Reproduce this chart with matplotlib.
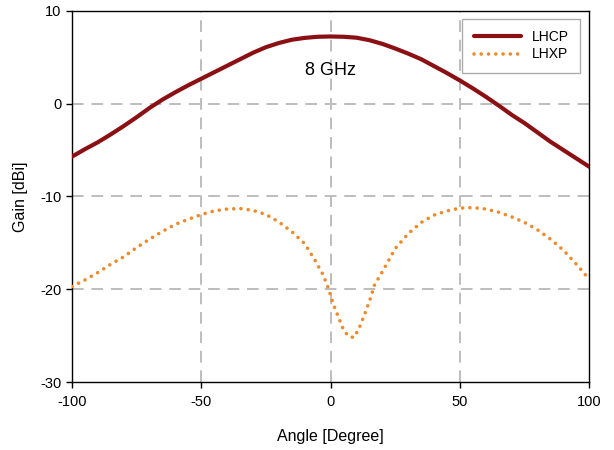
import matplotlib
matplotlib.use('Agg')
import matplotlib.pyplot as plt

# LHCP co-pol gain
lhcp_angle = [-100, -95, -90, -85, -80, -75, -70, -65, -60, -55, -50, -45, -40, -35,
              -30, -25, -20, -15, -10, -5, 0, 5, 10, 15, 20, 25, 30, 35, 40, 45,
              50, 55, 60, 65, 70, 75, 80, 85, 90, 95, 100]
lhcp_gain = [-5.7, -4.9, -4.15, -3.3, -2.4, -1.45, -0.45, 0.45, 1.25, 2.0, 2.7, 3.4,
             4.1, 4.8, 5.5, 6.1, 6.55, 6.9, 7.1, 7.22, 7.25, 7.22, 7.12, 6.85, 6.45,
             5.95, 5.4, 4.8, 4.05, 3.3, 2.5, 1.65, 0.75, -0.2, -1.2, -2.1, -3.1,
             -4.1, -5.0, -5.9, -6.8]

# LHXP cross-pol gain
lhxp_angle = [-100, -95, -90, -85, -80, -75, -70, -65, -60, -55, -50, -45, -40, -35,
              -30, -25, -20, -15, -10, -6, -3, -1, 1, 3, 5, 7, 9, 11, 13, 15, 17,
              20, 25, 30, 35, 40, 45, 50, 55, 60, 65, 70, 75, 80, 85, 90, 95, 100]
lhxp_gain = [-19.7, -19.0, -18.2, -17.3, -16.5, -15.5, -14.6, -13.75, -13.0, -12.45,
             -11.95, -11.55, -11.35, -11.3, -11.5, -11.95, -12.75, -13.8, -15.1,
             -16.9, -18.4, -19.8, -21.6, -23.0, -24.4, -25.1, -25.2, -24.2, -22.8,
             -21.3, -19.5, -18.1, -15.6, -14.0, -12.8, -12.0, -11.55, -11.25, -11.2,
             -11.35, -11.7, -12.2, -12.8, -13.6, -14.6, -15.8, -17.3, -18.95]

x_ticks = [-100, -50, 0, 50, 100]
y_ticks = [-30, -20, -10, 0, 10]

plt.rcParams['font.family'] = ['Liberation Sans', 'DejaVu Sans']
plt.rcParams['axes.unicode_minus'] = False

fig = plt.figure(figsize=(6.14, 4.5), dpi=100)
ax = fig.add_axes([0.1173, 0.1511, 0.8425, 0.8245])

ax.plot(lhcp_angle, lhcp_gain, color='#8B1014', lw=3.0, label='LHCP',
        solid_capstyle='round', solid_joinstyle='round', zorder=3)
ax.plot(lhxp_angle, lhxp_gain, color='#EE8A2C', lw=2.6, label='LHXP',
        dashes=(0.01, 2.0), dash_capstyle='round', zorder=3)

ax.set_xlim(-100, 100)
ax.set_ylim(-30, 10)
ax.set_xticks(x_ticks)
ax.set_yticks(y_ticks)
ax.tick_params(direction='out', length=4, width=1, labelsize=10.5, colors='black')
ax.tick_params(axis='x', pad=5)

# grid only at inner ticks
for xv in x_ticks[1:-1]:
    ax.axvline(xv, color='#BDBDBD', lw=1.4, dashes=(6, 4), zorder=1)
for yv in y_ticks[1:-1]:
    ax.axhline(yv, color='#BDBDBD', lw=1.4, dashes=(6, 4), zorder=1)

for sp in ax.spines.values():
    sp.set_linewidth(1.0)
    sp.set_color('black')

ax.set_xlabel('Angle [Degree]', fontsize=11.5, labelpad=15)
ax.set_ylabel('Gain [dBi]', fontsize=11.5, labelpad=9)

ax.text(0, 3.6, '8 GHz', ha='center', va='center', fontsize=13)

leg = ax.legend(loc='upper right', bbox_to_anchor=(0.99, 0.99), fontsize=10,
                fancybox=False, frameon=True, handlelength=3.4, borderpad=0.8,
                labelspacing=0.25, borderaxespad=0.3)
leg.get_frame().set_edgecolor('#999999')
leg.get_frame().set_linewidth(1.0)

fig.savefig('out.png', dpi=100)
